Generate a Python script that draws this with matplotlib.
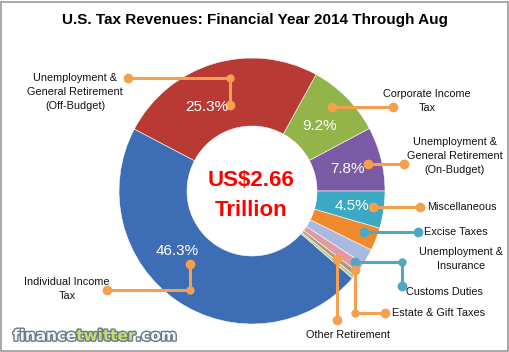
import matplotlib.pyplot as plt
import matplotlib.patheffects as pe
from matplotlib.patches import Rectangle

# shares in percent, drawn counter-clockwise starting at 3 o'clock
categories = ["Unemployment & General Retirement (On-Budget)", "Corporate Income Tax",
              "Unemployment & General Retirement (Off-Budget)", "Individual Income Tax",
              "Other Retirement", "Estate & Gift Taxes", "Customs Duties",
              "Unemployment & Insurance", "Excise Taxes", "Miscellaneous"]
shares = [7.8, 9.2, 25.3, 46.3, 0.4, 0.6, 1.2, 1.9, 2.8, 4.5]
colors = ["#7B5AA6", "#92B449", "#B93A35", "#3D6DB5", "#B5CC8E",
          "#B8967A", "#E09AA0", "#A9B9E0", "#F08A2C", "#3BA9C4"]
total_label = ["US$2.66", "Trillion"]
title = "U.S. Tax Revenues: Financial Year 2014 Through Aug"
watermark = ["finance", "twitter", ".com"]

W, H = 510, 352
fig = plt.figure(figsize=(W / 100, H / 100), dpi=100)
ax = fig.add_axes([0, 0, 1, 1])

def Y(y):
    # pixel row (from top) -> data y
    return H - y

ax.pie(shares, colors=colors, startangle=0, counterclock=True,
       center=(252, Y(191)), radius=133, frame=True,
       wedgeprops=dict(width=68, edgecolor="white", linewidth=0.4))
ax.set_xlim(0, W)
ax.set_ylim(0, H)
ax.axis("off")
ax.add_patch(Rectangle((1, 1), W - 3, H - 3, fill=False, edgecolor="#9a9a9a", lw=1.2))

sans = ["Liberation Sans", "DejaVu Sans"]
ax.text(255, Y(20), title, ha="center", va="center", fontsize=11,
        fontweight="bold", family=sans)

ax.text(251, Y(181), total_label[0], ha="center", va="center", color="#FF0000",
        fontsize=16, fontweight="bold", family=sans)
ax.text(251, Y(211), total_label[1], ha="center", va="center", color="#FF0000",
        fontsize=16, fontweight="bold", family=sans)

# percentage labels on the big slices
pct_pos = {0: (348, 169), 1: (320, 126), 2: (207, 107), 3: (177, 251), 9: (352, 206)}
for i, (x, y) in pct_pos.items():
    ax.text(x, Y(y), f"{shares[i]:.1f}%", ha="center", va="center", color="white",
            fontsize=11, family=sans)

orange = "#F4A04E"
teal = "#4FA8C0"
leaders = [
    ([(230, 105), (230, 78), (128, 78)], orange),
    ([(332, 107), (393, 107)], orange),
    ([(368, 164), (404, 164)], orange),
    ([(373, 207), (420, 207)], orange),
    ([(364, 232), (418, 232)], teal),
    ([(355, 262), (402, 262), (402, 286)], teal),
    ([(355, 270), (355, 313), (385, 313)], orange),
    ([(337, 259), (337, 320)], orange),
    ([(190, 264), (190, 290), (107, 290)], orange),
]
for pts, c in leaders:
    xs = [p[0] for p in pts]
    ys = [Y(p[1]) for p in pts]
    ax.plot(xs, ys, color=c, lw=2.2, solid_capstyle="round", solid_joinstyle="round")
    ax.plot([xs[0], xs[-1]], [ys[0], ys[-1]], "o", color=c, ms=6)
    if len(pts) == 3:
        ax.plot(xs[1], ys[1], "o", color=c, ms=5)

lab_kw = dict(fontsize=7.8, family=sans, color="#111111", linespacing=1.45)
ax.text(75, Y(92), "Unemployment &\nGeneral Retirement\n(Off-Budget)", ha="center",
        va="center", **lab_kw)
ax.text(427, Y(101), "Corporate Income\nTax", ha="center", va="center", **lab_kw)
ax.text(455, Y(156), "Unemployment &\nGeneral Retirement\n(On-Budget)", ha="center",
        va="center", **lab_kw)
ax.text(427, Y(207), "Miscellaneous", ha="left", va="center", **lab_kw)
ax.text(424, Y(232), "Excise Taxes", ha="left", va="center", **lab_kw)
ax.text(461, Y(259), "Unemployment &\nInsurance", ha="center", va="center", **lab_kw)
ax.text(444, Y(292), "Customs Duties", ha="center", va="center", **lab_kw)
ax.text(392, Y(313), "Estate & Gift Taxes", ha="left", va="center", **lab_kw)
ax.text(348, Y(335), "Other Retirement", ha="center", va="center", **lab_kw)
ax.text(67, Y(289), "Individual Income\nTax", ha="center", va="center", **lab_kw)

# watermark, pieces placed one after another
wm_fx = [pe.withStroke(linewidth=2.0, foreground="#6a7a8a")]
wm_colors = ["#f4f4f4", "#c8dc70", "#f4f4f4"]
renderer = fig.canvas.get_renderer()
x = 13
for word, c in zip(watermark, wm_colors):
    t = ax.text(x, Y(336), word, ha="left", va="center", fontsize=11,
                fontweight="bold", color=c, path_effects=wm_fx, family="DejaVu Sans")
    x += t.get_window_extent(renderer).width

fig.savefig("out.png", dpi=100)
